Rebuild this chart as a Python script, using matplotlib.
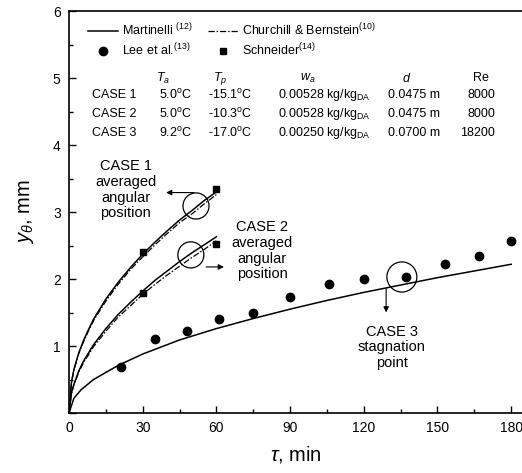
import matplotlib
matplotlib.use("Agg")
import matplotlib.pyplot as plt
from matplotlib.patches import Ellipse
import numpy as np

plt.rcParams['font.family'] = ['Liberation Sans', 'DejaVu Sans']
plt.rcParams['mathtext.fontset'] = 'custom'
plt.rcParams['mathtext.rm'] = 'Liberation Sans'
plt.rcParams['mathtext.it'] = 'Liberation Sans:italic'
plt.rcParams['mathtext.bf'] = 'Liberation Sans:bold'

# Martinelli / Churchill & Bernstein curves
tau_12 = [0, 1, 2, 4, 6, 8, 10, 15, 20, 25, 30, 35, 40, 45, 50, 55, 60]
mart_case1 = [0, 0.46, 0.65, 0.90, 1.09, 1.25, 1.40, 1.70, 1.95, 2.17, 2.37, 2.55, 2.72, 2.88, 3.02, 3.17, 3.30]
chur_case1 = [0, 0.45, 0.64, 0.89, 1.07, 1.23, 1.38, 1.67, 1.92, 2.14, 2.33, 2.51, 2.68, 2.84, 2.97, 3.12, 3.26]
mart_case2 = [0, 0.30, 0.43, 0.63, 0.78, 0.90, 1.02, 1.26, 1.47, 1.65, 1.82, 1.98, 2.12, 2.26, 2.39, 2.51, 2.63]
chur_case2 = [0, 0.29, 0.42, 0.61, 0.76, 0.87, 0.99, 1.22, 1.43, 1.60, 1.77, 1.92, 2.06, 2.19, 2.32, 2.44, 2.57]

tau_3 = [0, 2, 5, 10, 20, 30, 45, 60, 75, 90, 105, 120, 135, 150, 165, 180]
mart_case3 = [0, 0.22, 0.35, 0.50, 0.71, 0.88, 1.09, 1.26, 1.41, 1.55, 1.68, 1.80, 1.91, 2.02, 2.12, 2.22]

# Lee et al. (circles), case 3
lee_tau = [21, 35, 48, 61, 75, 90, 106, 120, 137, 153, 167, 180]
lee_y = [0.69, 1.10, 1.22, 1.40, 1.50, 1.73, 1.92, 2.00, 2.03, 2.23, 2.35, 2.57]

# Schneider (squares), case 1 and case 2
sch_tau = [30, 60, 30, 60]
sch_y = [2.40, 3.35, 1.79, 2.52]

# table text
row_names = ['CASE 1', 'CASE 2', 'CASE 3']
Ta = ['5.0', '5.0', '9.2']
Tp = ['-15.1', '-10.3', '-17.0']
wa = ['0.00528', '0.00528', '0.00250']
dd = ['0.0475 m', '0.0475 m', '0.0700 m']
Re = ['8000', '8000', '18200']

fig = plt.figure(figsize=(5.22, 4.73), dpi=100)
ax = fig.add_axes([69/522, 60/473, 453/522, 402/473])

dash_dot = (0, (5, 1.5, 1.2, 1.5))
l1, = ax.plot(tau_12, mart_case1, color='black', lw=1.1)
l2, = ax.plot(tau_12, chur_case1, color='black', lw=0.9, linestyle=dash_dot)
ax.plot(tau_12, mart_case2, color='black', lw=1.1)
ax.plot(tau_12, chur_case2, color='black', lw=0.9, linestyle=dash_dot)
ax.plot(tau_3, mart_case3, color='black', lw=1.1)
p1, = ax.plot(lee_tau, lee_y, 'o', color='black', markersize=6, linestyle='none')
p2, = ax.plot(sch_tau, sch_y, 's', color='black', markersize=5, linestyle='none')

ax.legend([l1, p1, l2, p2],
          ['Martinelli $^{(12)}$', 'Lee et al.$^{(13)}$',
           'Churchill & Bernstein$^{(10)}$', 'Schneider$^{(14)}$'],
          ncol=2, loc='upper left', bbox_to_anchor=(0.032, 0.985),
          frameon=False, fontsize=9, handlelength=2.4, handletextpad=0.3,
          columnspacing=1.2, labelspacing=0.25, borderaxespad=0)

# table
hy = 5.0
ax.text(38.3, hy, '$T_a$', ha='center', va='center', fontsize=9)
ax.text(61.5, hy, '$T_p$', ha='center', va='center', fontsize=9)
ax.text(97.3, hy, '$w_a$', ha='center', va='center', fontsize=9)
ax.text(137.6, hy, '$d$', ha='center', va='center', fontsize=9)
ax.text(167.5, hy, 'Re', ha='center', va='center', fontsize=9)
row_y = [4.75, 4.46, 4.18]
for i in range(3):
    y = row_y[i]
    ax.text(9.4, y, row_names[i], ha='left', va='center', fontsize=9)
    ax.text(36.6, y, Ta[i] + '$^{\\rm o}$C', ha='left', va='center', fontsize=9)
    ax.text(56.6, y, Tp[i] + '$^{\\rm o}$C', ha='left', va='center', fontsize=9)
    ax.text(85.1, y, wa[i] + ' kg/kg$_{\\rm DA}$', ha='left', va='center', fontsize=9)
    ax.text(129.9, y, dd[i], ha='left', va='center', fontsize=9)
    ax.text(173.5, y, Re[i], ha='right', va='center', fontsize=9)

# annotations
ax.add_patch(Ellipse((51.7, 3.09), 10.6, 0.39, fill=False, lw=0.9, color='black'))
ax.annotate('', xy=(38.4, 3.29), xytext=(52.0, 3.29),
            arrowprops=dict(arrowstyle='-|>', color='black', lw=0.8, mutation_scale=8))
ax.text(23.1, 3.33, 'CASE 1\naveraged\nangular\nposition', ha='center', va='center',
        fontsize=10.5, linespacing=1.15)

ax.add_patch(Ellipse((49.6, 2.36), 10.6, 0.39, fill=False, lw=0.9, color='black'))
ax.annotate('', xy=(64.2, 2.18), xytext=(54.7, 2.18),
            arrowprops=dict(arrowstyle='-|>', color='black', lw=0.8, mutation_scale=8))
ax.text(78.6, 2.42, 'CASE 2\naveraged\nangular\nposition', ha='center', va='center',
        fontsize=10.5, linespacing=1.15)

ax.add_patch(Ellipse((135.5, 2.03), 12.2, 0.45, fill=False, lw=0.9, color='black'))
ax.annotate('', xy=(129.1, 1.46), xytext=(129.1, 1.90),
            arrowprops=dict(arrowstyle='-|>', color='black', lw=0.8, mutation_scale=8))
ax.text(131.4, 0.98, 'CASE 3\nstagnation\npoint', ha='center', va='center',
        fontsize=10.5, linespacing=1.15)

ax.set_xlim(0, 184.4)
ax.set_ylim(0, 6)
ax.set_xticks([0, 30, 60, 90, 120, 150, 180])
ax.set_xticks([15, 45, 75, 105, 135, 165], minor=True)
ax.set_yticks([0, 1, 2, 3, 4, 5, 6])
ax.set_yticklabels(['', '1', '2', '3', '4', '5', '6'])
ax.set_yticks([0.5, 1.5, 2.5, 3.5, 4.5, 5.5], minor=True)
ax.tick_params(which='both', direction='in', labelsize=10, width=1)
ax.tick_params(which='major', length=5, pad=6)
ax.tick_params(which='minor', length=3)
ax.spines['right'].set_visible(False)
for s in ['left', 'bottom', 'top']:
    ax.spines[s].set_linewidth(1.2)

ax.set_xlabel(r'$\tau$, min', fontsize=14.5, labelpad=6)
ax.set_ylabel(r'$y_\theta$, mm', fontsize=14.5, labelpad=12)

fig.savefig('out.png', dpi=100)
